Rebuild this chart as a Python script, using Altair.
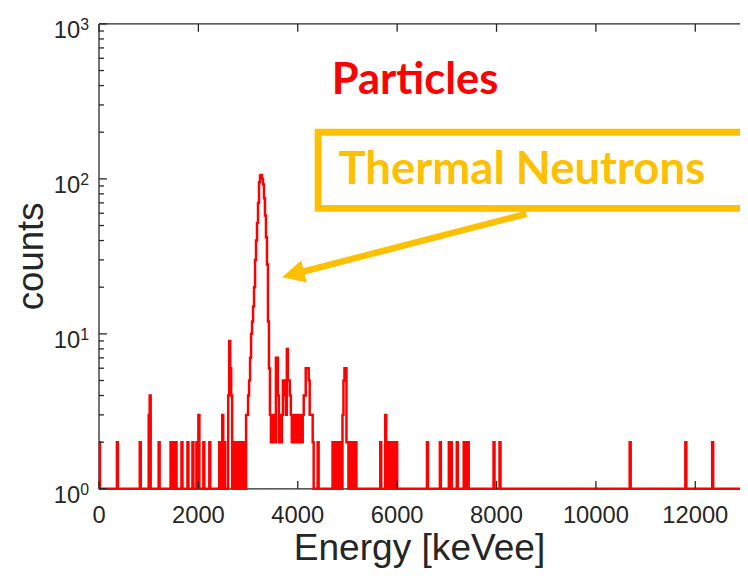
import altair as alt
import pandas as pd

# ---------------- data ----------------
bin_width = 20          # keVee per histogram bin
e_max = 12900           # right end of the energy axis
baseline_count = 1      # level of the empty bins on the log axis

# bins (start energy, keVee) that rise above the baseline, with their heights
spike_energy = [
    0, 360, 820, 1000, 1020, 1200, 1440, 1500, 1540, 1660, 1780, 1880, 1960, 2000,
    2100, 2220, 2420, 2440, 2480, 2520, 2600, 2620, 2640, 2660, 2720, 2760, 2780,
    2820, 2860, 2900, 2920, 2960, 2980, 3000, 3020, 3040, 3060, 3080, 3100, 3120,
    3140, 3160, 3180, 3200, 3220, 3240, 3260, 3280, 3300, 3320, 3340, 3360, 3380,
    3400, 3420, 3440, 3460, 3480, 3500, 3520, 3540, 3560, 3580, 3600, 3620, 3640,
    3660, 3680, 3700, 3720, 3740, 3760, 3780, 3800, 3820, 3840, 3860, 3880, 3900,
    3920, 3940, 3960, 3980, 4000, 4020, 4040, 4060, 4080, 4100, 4120, 4140, 4160,
    4180, 4200, 4220, 4240, 4260, 4280, 4300, 4400, 4700, 4740, 4780, 4820, 4860,
    4900, 4920, 4940, 4960, 4980, 5000, 5040, 5080, 5120, 5160, 5660, 5760, 5780,
    5820, 5860, 5900, 5940, 5980, 6600, 6860, 7040, 7080, 7200, 7340, 7380, 7420,
    7940, 8060, 10680, 11800, 12340,
]
spike_counts = [
    2, 2, 2, 3, 4, 2, 2, 2, 2, 2, 2, 2, 2, 3,
    2, 2, 2, 2, 3, 2, 4, 9, 6, 4, 2, 2, 2,
    2, 2, 2, 2, 3, 3, 4, 5, 7, 10, 12, 15, 20,
    30, 40, 52, 70, 95, 105, 106, 100, 92, 75, 58, 42, 28,
    12, 6, 3, 2, 2, 3, 2, 2, 7, 7, 4, 2, 3,
    2, 3, 5, 5, 4, 3, 8, 5, 5, 4, 3, 2, 2,
    3, 3, 2, 3, 3, 2, 3, 2, 2, 3, 4, 4, 6,
    6, 6, 5, 3, 3, 3, 2, 2, 2, 2, 2, 2, 2,
    3, 5, 6, 6, 2, 2, 2, 2, 2, 2, 2, 3, 2,
    2, 2, 2, 2, 2, 2, 2, 2, 2, 2, 2, 2, 2,
    2, 2, 2, 2, 2,
]

# axis ticks and titles
x_ticks = [0, 2000, 4000, 6000, 8000, 10000, 12000]
x_tick_labels = ["0", "2000", "4000", "6000", "8000", "10000", "12000"]
y_major = [1, 10, 100, 1000]
y_exponents = ["0", "1", "2", "3"]
y_minor = [2, 3, 4, 5, 6, 7, 8, 9, 20, 30, 40, 50, 60, 70, 80, 90,
           200, 300, 400, 500, 600, 700, 800, 900]
x_title = ["Energy [keVee]"]
y_title = ["counts"]

# annotations (in data units: keVee, counts)
particles_label = ["Particles"]
particles_pos = [6360, 352]
neutron_label = ["Thermal Neutrons"]
neutron_pos = [4818, 92.5]
box_x = [4410, 14000]
box_y = [200, 64.5]
arrow_x = [8600, 3914]
arrow_y = [59.5, 24.3]
arrow_tip = [3683, 23.2]

# ---------------- build tables ----------------
levels = {e: c for e, c in zip(spike_energy, spike_counts)}
edges = list(range(0, e_max + bin_width, bin_width))
hist_df = pd.DataFrame({
    "energy": edges,
    "counts": [levels.get(e, baseline_count) for e in edges],
})

axis_color = "#262626"
gold = "#FFC000"
red = "#FF0000"
axis_font = "Liberation Sans"
W, H = 648, 470

x_scale = alt.Scale(domain=[0, e_max], nice=False, zero=False)
y_scale = alt.Scale(type="log", domain=[1, 1000], nice=False)


def X(field):
    return alt.X(field, scale=x_scale, axis=None)


def Y(field):
    return alt.Y(field, scale=y_scale, axis=None)


hist = alt.Chart(hist_df).mark_line(
    interpolate="step-after", color=red, strokeWidth=2.5
).encode(x=X("energy:Q"), y=Y("counts:Q"))

one = pd.DataFrame({"v": [0]})

# axis lines (box: left, bottom, top)
left_line = alt.Chart(one).mark_rule(color=axis_color, strokeWidth=1.3).encode(
    x=alt.value(0), y=alt.value(0), y2=alt.value(H))
bottom_line = alt.Chart(one).mark_rule(color=axis_color, strokeWidth=1.3).encode(
    x=alt.value(0), x2=alt.value(W), y=alt.value(H))
top_line = alt.Chart(one).mark_rule(color=axis_color, strokeWidth=1.3).encode(
    x=alt.value(0), x2=alt.value(W), y=alt.value(0))

# inward ticks (MATLAB style)
ymaj = alt.Chart(pd.DataFrame({"v": y_major})).mark_rule(color=axis_color, strokeWidth=1.3).encode(
    y=Y("v:Q"), x=alt.value(0), x2=alt.value(8))
ymin = alt.Chart(pd.DataFrame({"v": y_minor})).mark_rule(color=axis_color, strokeWidth=1.3).encode(
    y=Y("v:Q"), x=alt.value(0), x2=alt.value(5))
xtop = alt.Chart(pd.DataFrame({"v": x_ticks})).mark_rule(color=axis_color, strokeWidth=1.3).encode(
    x=X("v:Q"), y=alt.value(0), y2=alt.value(8))
xbot = alt.Chart(pd.DataFrame({"v": x_ticks})).mark_rule(color=axis_color, strokeWidth=1.3).encode(
    x=X("v:Q"), y=alt.value(H), y2=alt.value(H - 8))

# tick labels
xlab = alt.Chart(pd.DataFrame({"v": x_ticks, "t": x_tick_labels})).mark_text(
    align="center", baseline="alphabetic", fontSize=24, font=axis_font, color=axis_color
).encode(x=X("v:Q"), y=alt.value(H + 35), text="t:N")

ylab_df = pd.DataFrame({"v": y_major, "base": ["10"] * len(y_major), "exp": y_exponents})
ylab_base = alt.Chart(ylab_df).mark_text(
    align="right", baseline="alphabetic", dy=14, fontSize=24, font=axis_font, color=axis_color
).encode(x=alt.value(-19), y=Y("v:Q"), text="base:N")
ylab_exp = alt.Chart(ylab_df).mark_text(
    align="left", baseline="alphabetic", dy=6, fontSize=16, font=axis_font, color=axis_color
).encode(x=alt.value(-19), y=Y("v:Q"), text="exp:N")

# axis titles
xtitle = alt.Chart(pd.DataFrame({"t": x_title})).mark_text(
    align="center", baseline="alphabetic", fontSize=37.5, font=axis_font, color=axis_color
).encode(x=alt.value(W / 2), y=alt.value(H + 72), text="t:N")
ytitle = alt.Chart(pd.DataFrame({"t": y_title})).mark_text(
    align="center", baseline="alphabetic", angle=270, fontSize=37, font=axis_font, color=axis_color
).encode(x=alt.value(-57), y=alt.value(H / 2), text="t:N")

# annotations
box = alt.Chart(pd.DataFrame({"x": [box_x[0]], "x2": [box_x[1]], "y": [box_y[0]], "y2": [box_y[1]]})).mark_rect(
    fillOpacity=0, stroke=gold, strokeWidth=7
).encode(x=X("x:Q"), x2="x2:Q", y=Y("y:Q"), y2="y2:Q")

arrow_line = alt.Chart(pd.DataFrame({"x": arrow_x, "y": arrow_y})).mark_line(
    color=gold, strokeWidth=6.5
).encode(x=X("x:Q"), y=Y("y:Q"))

arrow_head = alt.Chart(pd.DataFrame({"x": [arrow_tip[0]], "y": [arrow_tip[1]]})).mark_point(
    shape="M0,0L-1,2L1,2Z", size=529, angle=255.5, filled=True,
    color=gold, opacity=1, strokeWidth=0
).encode(x=X("x:Q"), y=Y("y:Q"))

neutron_text = alt.Chart(pd.DataFrame({"x": [neutron_pos[0]], "y": [neutron_pos[1]], "t": neutron_label})).mark_text(
    align="left", baseline="alphabetic", font="Lato", fontWeight="bold", fontSize=46, color=gold
).encode(x=X("x:Q"), y=Y("y:Q"), text="t:N")

particles_text = alt.Chart(pd.DataFrame({"x": [particles_pos[0]], "y": [particles_pos[1]], "t": particles_label})).mark_text(
    align="center", baseline="alphabetic", font="Lato", fontWeight="bold", fontSize=44, color=red
).encode(x=X("x:Q"), y=Y("y:Q"), text="t:N")

chart = alt.layer(
    left_line, bottom_line, top_line, hist, ymin, ymaj, xtop, xbot,
    xlab, ylab_base, ylab_exp, xtitle, ytitle,
    box, arrow_line, arrow_head, neutron_text, particles_text,
).properties(
    width=W, height=H,
    autosize=alt.AutoSizeParams(type="none"),
    padding={"left": 92, "top": 13, "right": 0, "bottom": 79},
    background="white",
).configure_view(strokeWidth=0)

chart.save("out.html", embed_options={"renderer": "svg", "actions": False})
